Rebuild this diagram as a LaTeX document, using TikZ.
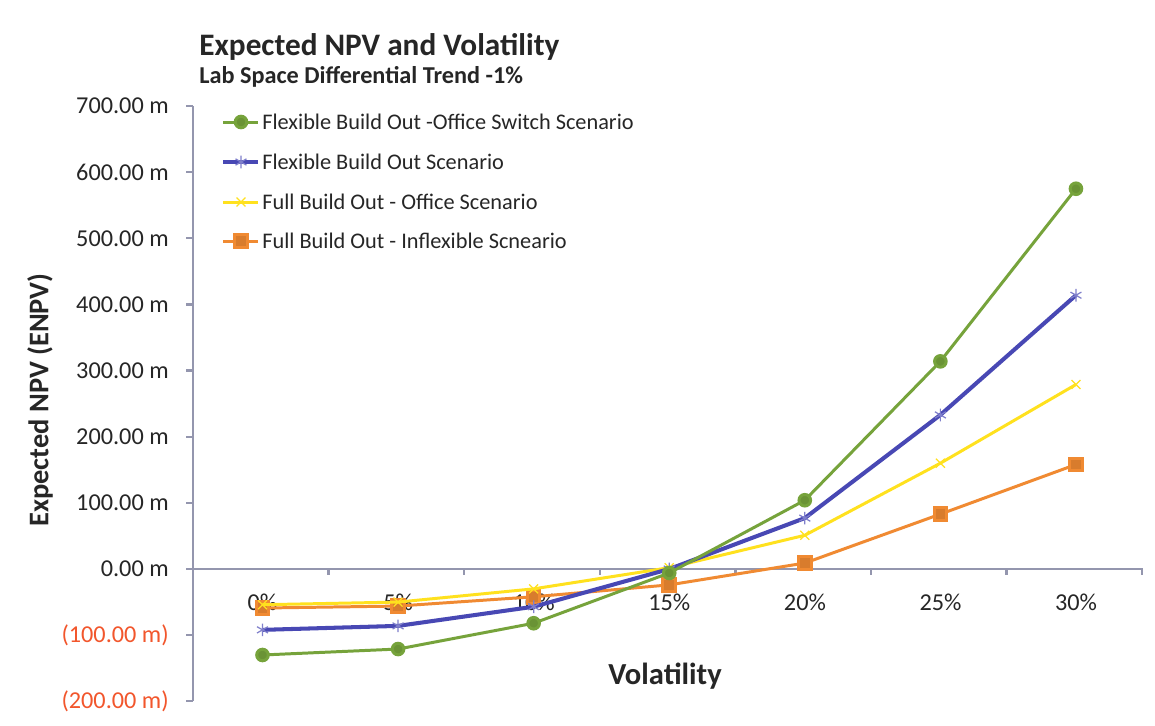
\documentclass[tikz,border=0pt]{standalone}
\usepackage{fontspec}
\setmainfont{Carlito}
\usetikzlibrary{plotmarks}
\definecolor{axisgray}{HTML}{9496AE}
\definecolor{labelgray}{HTML}{262626}
\definecolor{negred}{HTML}{F2562C}
\definecolor{sergreen}{HTML}{76A33B}
\definecolor{serblue}{HTML}{4848B4}
\definecolor{seryellow}{HTML}{FFE11E}
\definecolor{serorange}{HTML}{F08A32}
\tikzset{
  ticklabel/.style={font=\fontsize{13.8}{15}\selectfont, text=labelgray, inner sep=0pt},
  legendtext/.style={font=\fontsize{12.7}{14}\selectfont, text=labelgray, anchor=west, inner sep=0pt},
  axisline/.style={axisgray, line width=1.3pt},
  greenser/.style={sergreen, line width=1.7pt, mark=*, mark size=3.3pt,
    mark options={fill=sergreen!90!black, draw=sergreen}},
  blueser/.style={serblue, line width=2.3pt, mark=asterisk, mark size=3.6pt,
    mark options={line width=0.7pt, draw=serblue!70!white}},
  yellowser/.style={seryellow, line width=1.7pt, mark=x, mark size=3.6pt,
    mark options={line width=0.7pt}},
  orangeser/.style={serorange, line width=1.7pt, mark=square*, mark size=3.6pt,
    mark options={fill=serorange!90!black, draw=serorange}}
}
\begin{document}
\begin{tikzpicture}[x=0.02cm, y=-0.02cm]
    \useasboundingbox[fill=white] (0,0) rectangle (1155,725);
    \node[anchor=base west, inner sep=0pt, text=labelgray, font=\fontsize{17.8}{20}\selectfont\bfseries] (title) at (199,55) {Expected NPV and Volatility};
    \node[anchor=base west, inner sep=0pt, text=labelgray, font=\fontsize{13.8}{16}\selectfont\bfseries] (subtitle) at (199,83) {Lab Space Differential Trend -1\%};
    \node[rotate=90, inner sep=0pt, text=labelgray, font=\fontsize{16.2}{18}\selectfont\bfseries] (ytitle) at (40,400) {Expected NPV (ENPV)};
    \node[anchor=base, inner sep=0pt, text=labelgray, font=\fontsize{17.4}{20}\selectfont\bfseries] (xtitle) at (665,684) {Volatility};
    \draw[axisline] (193,106) -- (193,701);
    \foreach \val/\lab/\col [count=\i] in {700/700.00 m/labelgray, 600/600.00 m/labelgray, 500/500.00 m/labelgray,
        400/400.00 m/labelgray, 300/300.00 m/labelgray, 200/200.00 m/labelgray, 100/100.00 m/labelgray,
        0/0.00 m/labelgray, -100/(100.00 m)/negred, -200/(200.00 m)/negred} {
        \draw[axisline] (186,{569-0.6614*\val}) -- (193,{569-0.6614*\val});
        \node[ticklabel, anchor=east, text=\col] (ylab\i) at (169,{569-0.6614*\val}) {\lab};
    }
    \draw[axisline] (193,569) -- (1143,569);
    \foreach \k in {1,...,7}
        \draw[axisline] ({193+135.6*\k},569) -- ({193+135.6*\k},575);
    \foreach \p [count=\i from 0] in {0,5,...,30}
        \node[ticklabel] (xlab\i) at ({262.5+135.6*\i},602) {\p\%};
    \begin{scope}[shift={(262.5,569)}, x=2.712cm, y=0.013228cm]
        \draw[orangeser] plot coordinates {(0,-59) (1,-56) (2,-42) (3,-24) (4,9) (5,83) (6,158)};
        \draw[yellowser] plot coordinates {(0,-54) (1,-50) (2,-30) (3,2) (4,51) (5,160) (6,279)};
        \draw[blueser] plot coordinates {(0,-92) (1,-86) (2,-57) (3,0) (4,77) (5,233) (6,414)};
        \draw[greenser] plot coordinates {(0,-130) (1,-121) (2,-82) (3,-6) (4,104) (5,314) (6,575)};
    \end{scope}
    \foreach \s/\yy/\txt [count=\i] in {greenser/122/Flexible Build Out -Office Switch Scenario,
        blueser/162/Flexible Build Out Scenario,
        yellowser/202/Full Build Out - Office Scenario,
        orangeser/241/Full Build Out - Inflexible Scneario} {
        \draw[\s, mark indices={2}] plot coordinates {(223,\yy) (241,\yy) (258,\yy)};
        \node[legendtext] (leg\i) at (262,\yy) {\txt};
    }
\end{tikzpicture}
\end{document}
